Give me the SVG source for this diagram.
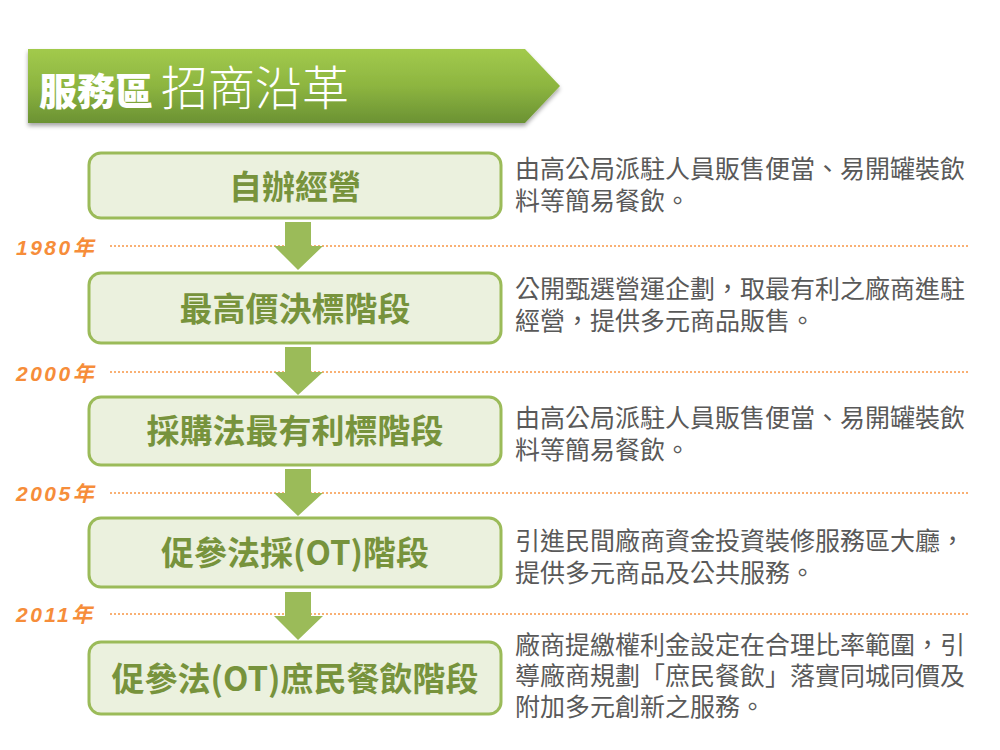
<svg xmlns="http://www.w3.org/2000/svg" width="1000" height="750" viewBox="0 0 1000 750">
<defs>
<linearGradient id="bannerGrad" x1="0" y1="0" x2="0" y2="1">
<stop offset="0" stop-color="#a2ca4c"/>
<stop offset="0.5" stop-color="#8db540"/>
<stop offset="1" stop-color="#6b9233"/>
</linearGradient>
<filter id="shadow" x="-5%" y="-20%" width="110%" height="150%">
<feDropShadow dx="0" dy="3" stdDeviation="2" flood-color="#000" flood-opacity="0.35"/>
</filter>
<style>
.box{fill:#ebf1de;stroke:#9bbb59;stroke-width:3}
.boxText{font-family:"Noto Sans CJK TC","Noto Sans CJK SC",sans-serif;font-weight:bold;font-size:33px;fill:#77933c;text-anchor:middle}
.desc{font-family:"Noto Sans CJK TC","Noto Sans CJK SC",sans-serif;font-size:25px;fill:#595959}
.year{font-family:"Liberation Sans","Noto Sans CJK TC",sans-serif;font-style:italic;font-weight:bold;font-size:21px;fill:#f68d3a;letter-spacing:2.5px}
.dots{stroke:#f79646;stroke-width:1.5;stroke-dasharray:2 2;fill:none}
.arrow{fill:#9bbb59}
</style>
</defs>
<rect width="1000" height="750" fill="#ffffff"/>

<g id="banner">
<polygon points="28,49 525,49 560,86 525,123 28,123" fill="url(#bannerGrad)" filter="url(#shadow)"/>
<text x="39" y="105" font-family="'Noto Sans CJK TC','Noto Sans CJK SC',sans-serif" font-weight="900" font-size="38" fill="#ffffff">服務區</text>
<text x="161" y="105" font-family="'Noto Sans CJK TC','Noto Sans CJK SC',sans-serif" font-weight="300" font-size="47" fill="#ffffff">招商沿革</text>
</g>

<g id="connectors">
<line class="dots" x1="110" y1="246" x2="968" y2="246"/>
<line class="dots" x1="110" y1="372" x2="968" y2="372"/>
<line class="dots" x1="110" y1="493" x2="968" y2="493"/>
<line class="dots" x1="110" y1="614" x2="968" y2="614"/>
<polygon class="arrow" points="285,222 311,222 311,246 323,246 298,270 274,246 285,246"/>
<polygon class="arrow" points="285,347 311,347 311,372 323,372 298,395 274,372 285,372"/>
<polygon class="arrow" points="285,469 311,469 311,493 323,493 298,516 274,493 285,493"/>
<polygon class="arrow" points="285,592 311,592 311,616 323,616 298,640 274,616 285,616"/>
</g>

<g id="year1980"><text class="year" x="16" y="255">1980年</text></g>
<g id="year2000"><text class="year" x="16" y="381">2000年</text></g>
<g id="year2005"><text class="year" x="16" y="501">2005年</text></g>
<g id="year2011"><text class="year" x="16" y="622">2011年</text></g>

<g id="node1">
<rect class="box" x="89" y="153" width="412" height="65" rx="12"/>
<text class="boxText" x="295" y="199">自辦經營</text>
<text class="desc" x="515" y="178">由高公局派駐人員販售便當、易開罐裝飲</text>
<text class="desc" x="515" y="210">料等簡易餐飲。</text>
</g>

<g id="node2">
<rect class="box" x="89" y="273" width="412" height="70" rx="12"/>
<text class="boxText" x="295" y="321">最高價決標階段</text>
<text class="desc" x="515" y="298">公開甄選營運企劃，取最有利之廠商進駐</text>
<text class="desc" x="515" y="330">經營，提供多元商品販售。</text>
</g>

<g id="node3">
<rect class="box" x="89" y="397" width="412" height="68" rx="12"/>
<text class="boxText" x="295" y="443">採購法最有利標階段</text>
<text class="desc" x="515" y="427">由高公局派駐人員販售便當、易開罐裝飲</text>
<text class="desc" x="515" y="459">料等簡易餐飲。</text>
</g>

<g id="node4">
<rect class="box" x="89" y="518" width="412" height="69" rx="12"/>
<text class="boxText" x="295" y="565">促參法採(OT)階段</text>
<text class="desc" x="515" y="550">引進民間廠商資金投資裝修服務區大廳，</text>
<text class="desc" x="515" y="582">提供多元商品及公共服務。</text>
</g>

<g id="node5">
<rect class="box" x="89" y="642" width="412" height="72" rx="12"/>
<text class="boxText" x="295" y="691">促參法(OT)庶民餐飲階段</text>
<text class="desc" x="515" y="654">廠商提繳權利金設定在合理比率範圍，引</text>
<text class="desc" x="515" y="685">導廠商規劃「庶民餐飲」落實同城同價及</text>
<text class="desc" x="515" y="716">附加多元創新之服務。</text>
</g>
</svg>
